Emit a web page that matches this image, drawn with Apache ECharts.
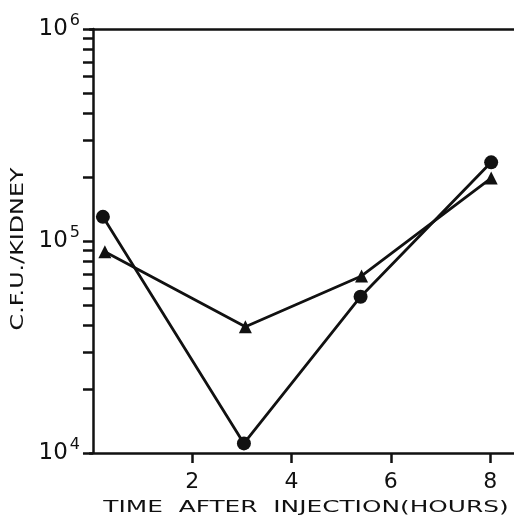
<!DOCTYPE html>
<html>
<head>
<meta charset="utf-8">
<script src="https://cdn.jsdelivr.net/npm/echarts@6/dist/echarts.min.js"></script>
<style>
  html, body { margin: 0; padding: 0; background: #fff; }
  #chart { width: 514px; height: 517px; }
</style>
</head>
<body>
<div id="chart"></div>
<script>
// hours after injection, C.F.U. per kidney
var circleHours = [0.2, 3.04, 5.39, 8.02];
var circleCfu = [130000, 11100, 54600, 235000];
var triangleHours = [0.24, 3.07, 5.41, 8.02];
var triangleCfu = [89000, 39400, 68400, 198000];

var xTicks = [2, 4, 6, 8];
var yMinor = [20000, 30000, 40000, 50000, 60000, 70000, 80000, 90000,
              200000, 300000, 400000, 500000, 600000, 700000, 800000, 900000];

var xTitle = 'TIME  AFTER  INJECTION(HOURS)';
var yTitle = 'C.F.U./KIDNEY';

var ink = '#111';
var font = 'DejaVu Sans';

function pairs(xs, ys) {
	var out = [];
	for (var i = 0; i < xs.length; i++) {
		out.push([xs[i], ys[i]]);
	}
	return out;
}

var myChart = echarts.init(document.getElementById('chart'));
var option = {
	backgroundColor: '#fff',
	animation: false,
	grid: { left: 90, right: 0, top: 29, bottom: 64, outerBoundsMode: 'none' },
	// axis titles, stretched like the wide lettering of the original
	graphic: [{
		type: 'text',
		x: 306,
		y: 508,
		scaleX: 1.55,
		style: { text: xTitle, align: 'center', verticalAlign: 'middle', fill: ink, font: '16px "DejaVu Sans"' }
	}, {
		type: 'text',
		x: 19,
		y: 249,
		rotation: Math.PI / 2,
		scaleX: 1.4,
		style: { text: yTitle, align: 'center', verticalAlign: 'middle', fill: ink, font: '17px "DejaVu Sans"' }
	}],
	xAxis: [{
		type: 'value',
		min: -0.06,
		max: 8.48,
		axisLine: { lineStyle: { color: ink, width: 2.5 } },
		axisTick: { customValues: xTicks, length: 10, lineStyle: { color: ink, width: 2.5 } },
		axisLabel: { customValues: xTicks, color: ink, fontFamily: font, fontSize: 22, margin: 18 },
		splitLine: { show: false }
	}, {
		type: 'value',
		position: 'top',
		min: -0.06,
		max: 8.48,
		axisLine: { show: true, lineStyle: { color: ink, width: 2.5 } },
		axisTick: { show: false },
		axisLabel: { show: false },
		splitLine: { show: false }
	}],
	yAxis: [{
		type: 'log',
		logBase: 10,
		min: 10000,
		max: 1000000,
		axisLine: { show: true, lineStyle: { color: ink, width: 2.5 } },
		axisTick: { show: true, length: 10, lineStyle: { color: ink, width: 2.5 } },
		axisLabel: {
			margin: 10,
			formatter: function (v) {
				var e = Math.round(Math.log10(v));
				return '{b|10}{s|' + e + '}';
			},
			rich: {
				b: { color: ink, fontFamily: font, fontSize: 23 },
				s: { color: ink, fontFamily: font, fontSize: 16, padding: [0, 0, 17, 2] }
			}
		},
		splitLine: { show: false }
	}, {
		// minor decade ticks
		type: 'value',
		position: 'left',
		min: 4,
		max: 6,
		axisLine: { show: false },
		axisTick: {
			show: true,
			length: 10,
			customValues: yMinor.map(function (v) { return Math.log10(v); }),
			lineStyle: { color: ink, width: 2.5 }
		},
		axisLabel: { show: false },
		splitLine: { show: false }
	}],
	series: [{
		name: 'circle',
		type: 'line',
		data: pairs(circleHours, circleCfu),
		symbol: 'circle',
		symbolSize: 14,
		lineStyle: { color: ink, width: 2.8 },
		itemStyle: { color: ink }
	}, {
		name: 'triangle',
		type: 'line',
		data: pairs(triangleHours, triangleCfu),
		symbol: 'triangle',
		symbolSize: 13,
		lineStyle: { color: ink, width: 2.8 },
		itemStyle: { color: ink }
	}]
};
myChart.setOption(option);
</script>
</body>
</html>
